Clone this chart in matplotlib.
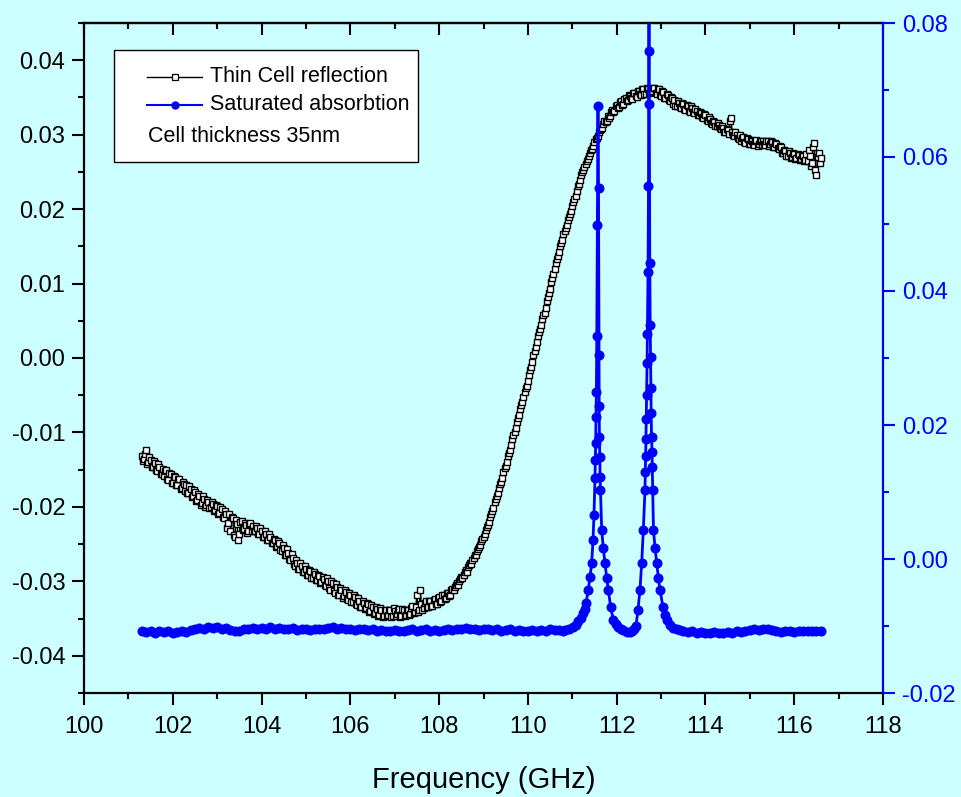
import numpy as np
import matplotlib
matplotlib.use("Agg")
import matplotlib.pyplot as plt
from matplotlib.ticker import MultipleLocator, FormatStrFormatter
from matplotlib.lines import Line2D
from matplotlib.patches import Rectangle

plt.rcParams['font.family'] = ['Liberation Sans', 'DejaVu Sans']
plt.rcParams['axes.unicode_minus'] = False

BG = '#ccffff'
BLUE = '#0000ff'

# thin cell reflection, two interleaved sweeps every 50 MHz
refl_freq_a = np.round(np.linspace(101.30, 116.60, 307), 3)
refl_signal_a = [
    -0.0131, -0.0136, -0.0124, -0.0140, -0.0137, -0.0147, -0.0141, -0.0152, -0.0146, -0.0156,
    -0.0158, -0.0150, -0.0164, -0.0156, -0.0168, -0.0160, -0.0171, -0.0162, -0.0175, -0.0169,
    -0.0171, -0.0181, -0.0176, -0.0186, -0.0180, -0.0191, -0.0185, -0.0195, -0.0190, -0.0198,
    -0.0193, -0.0200, -0.0196, -0.0204, -0.0199, -0.0208, -0.0203, -0.0215, -0.0209, -0.0221,
    -0.0232, -0.0215, -0.0241, -0.0223, -0.0236, -0.0219, -0.0230, -0.0224, -0.0233, -0.0222,
    -0.0226, -0.0233, -0.0228, -0.0236, -0.0232, -0.0240, -0.0236, -0.0244, -0.0241, -0.0249,
    -0.0245, -0.0253, -0.0249, -0.0259, -0.0255, -0.0265, -0.0262, -0.0272, -0.0268, -0.0279,
    -0.0276, -0.0283, -0.0279, -0.0287, -0.0283, -0.0292, -0.0286, -0.0295, -0.0290, -0.0298,
    -0.0293, -0.0301, -0.0297, -0.0306, -0.0300, -0.0311, -0.0302, -0.0316, -0.0308, -0.0318,
    -0.0311, -0.0320, -0.0314, -0.0325, -0.0318, -0.0328, -0.0321, -0.0332, -0.0326, -0.0334,
    -0.0329, -0.0336, -0.0331, -0.0340, -0.0335, -0.0343, -0.0337, -0.0345, -0.0339, -0.0346,
    -0.0339, -0.0345, -0.0338, -0.0346, -0.0340, -0.0344, -0.0337, -0.0346, -0.0339, -0.0345,
    -0.0338, -0.0344, -0.0333, -0.0341, -0.0318, -0.0339, -0.0330, -0.0336, -0.0327, -0.0334,
    -0.0326, -0.0333, -0.0324, -0.0330, -0.0321, -0.0327, -0.0318, -0.0323, -0.0315, -0.0318,
    -0.0310, -0.0307, -0.0302, -0.0300, -0.0294, -0.0291, -0.0285, -0.0281, -0.0275, -0.0271,
    -0.0265, -0.0259, -0.0254, -0.0246, -0.0240, -0.0231, -0.0224, -0.0213, -0.0206, -0.0194,
    -0.0186, -0.0174, -0.0166, -0.0153, -0.0145, -0.0132, -0.0123, -0.0109, -0.0099, -0.0086,
    -0.0076, -0.0063, -0.0053, -0.0040, -0.0031, -0.0016, -0.0005, 0.0010, 0.0021, 0.0035,
    0.0044, 0.0058, 0.0067, 0.0082, 0.0093, 0.0108, 0.0119, 0.0133, 0.0142, 0.0155,
    0.0166, 0.0174, 0.0185, 0.0193, 0.0204, 0.0213, 0.0225, 0.0234, 0.0246, 0.0252,
    0.0261, 0.0267, 0.0276, 0.0281, 0.0290, 0.0295, 0.0303, 0.0307, 0.0314, 0.0317,
    0.0325, 0.0325, 0.0333, 0.0332, 0.0340, 0.0337, 0.0345, 0.0341, 0.0349, 0.0346,
    0.0352, 0.0348, 0.0356, 0.0351, 0.0358, 0.0353, 0.0361, 0.0355, 0.0362, 0.0357,
    0.0358, 0.0363, 0.0355, 0.0361, 0.0352, 0.0357, 0.0349, 0.0353, 0.0345, 0.0349,
    0.0346, 0.0339, 0.0343, 0.0336, 0.0341, 0.0333, 0.0338, 0.0331, 0.0336, 0.0329,
    0.0332, 0.0326, 0.0329, 0.0323, 0.0326, 0.0319, 0.0321, 0.0314, 0.0317, 0.0311,
    0.0313, 0.0308, 0.0309, 0.0303, 0.0306, 0.0318, 0.0304, 0.0298, 0.0300, 0.0294,
    0.0292, 0.0297, 0.0289, 0.0294, 0.0287, 0.0292, 0.0286, 0.0293, 0.0287, 0.0291,
    0.0291, 0.0286, 0.0292, 0.0287, 0.0290, 0.0284, 0.0287, 0.0281, 0.0283, 0.0276,
    0.0278, 0.0272, 0.0276, 0.0270, 0.0274, 0.0268, 0.0273, 0.0267, 0.0272, 0.0266,
    0.0265, 0.0271, 0.0262, 0.0289, 0.0246, 0.0275, 0.0268,
]
refl_freq_b = np.round(np.linspace(101.325, 116.575, 306), 3)
refl_signal_b = [
    -0.0138, -0.0129, -0.0142, -0.0133, -0.0146, -0.0139, -0.0151, -0.0142, -0.0156, -0.0149,
    -0.0152, -0.0163, -0.0155, -0.0168, -0.0159, -0.0170, -0.0162, -0.0176, -0.0166, -0.0179,
    -0.0181, -0.0172, -0.0187, -0.0177, -0.0192, -0.0183, -0.0197, -0.0186, -0.0200, -0.0191,
    -0.0201, -0.0193, -0.0205, -0.0197, -0.0209, -0.0200, -0.0214, -0.0206, -0.0228, -0.0210,
    -0.0213, -0.0238, -0.0218, -0.0245, -0.0220, -0.0231, -0.0221, -0.0235, -0.0223, -0.0232,
    -0.0233, -0.0225, -0.0237, -0.0229, -0.0240, -0.0233, -0.0244, -0.0237, -0.0249, -0.0243,
    -0.0254, -0.0246, -0.0258, -0.0251, -0.0264, -0.0257, -0.0270, -0.0263, -0.0277, -0.0271,
    -0.0284, -0.0276, -0.0288, -0.0280, -0.0292, -0.0285, -0.0296, -0.0288, -0.0298, -0.0291,
    -0.0302, -0.0294, -0.0305, -0.0296, -0.0309, -0.0299, -0.0313, -0.0304, -0.0319, -0.0309,
    -0.0322, -0.0312, -0.0324, -0.0316, -0.0328, -0.0319, -0.0331, -0.0322, -0.0335, -0.0326,
    -0.0337, -0.0329, -0.0341, -0.0332, -0.0344, -0.0335, -0.0347, -0.0336, -0.0348, -0.0338,
    -0.0347, -0.0338, -0.0348, -0.0336, -0.0347, -0.0339, -0.0348, -0.0337, -0.0346, -0.0338,
    -0.0345, -0.0336, -0.0343, -0.0334, -0.0341, -0.0312, -0.0338, -0.0329, -0.0335, -0.0327,
    -0.0333, -0.0325, -0.0331, -0.0322, -0.0328, -0.0319, -0.0324, -0.0316, -0.0320, -0.0311,
    -0.0312, -0.0305, -0.0305, -0.0297, -0.0296, -0.0288, -0.0287, -0.0278, -0.0277, -0.0268,
    -0.0264, -0.0256, -0.0251, -0.0243, -0.0237, -0.0227, -0.0220, -0.0209, -0.0201, -0.0189,
    -0.0181, -0.0169, -0.0161, -0.0148, -0.0140, -0.0127, -0.0117, -0.0103, -0.0094, -0.0080,
    -0.0069, -0.0059, -0.0046, -0.0037, -0.0023, -0.0012, 0.0004, 0.0015, 0.0029, 0.0039,
    0.0052, 0.0061, 0.0076, 0.0087, 0.0102, 0.0113, 0.0127, 0.0137, 0.0150, 0.0159,
    0.0171, 0.0179, 0.0190, 0.0198, 0.0210, 0.0218, 0.0231, 0.0239, 0.0250, 0.0256,
    0.0265, 0.0271, 0.0280, 0.0285, 0.0294, 0.0298, 0.0306, 0.0309, 0.0318, 0.0319,
    0.0322, 0.0331, 0.0330, 0.0339, 0.0336, 0.0344, 0.0340, 0.0348, 0.0345, 0.0353,
    0.0349, 0.0356, 0.0352, 0.0359, 0.0354, 0.0361, 0.0355, 0.0363, 0.0356, 0.0362,
    0.0363, 0.0356, 0.0361, 0.0353, 0.0358, 0.0349, 0.0354, 0.0346, 0.0350, 0.0341,
    0.0339, 0.0345, 0.0337, 0.0342, 0.0334, 0.0340, 0.0332, 0.0338, 0.0330, 0.0334,
    0.0327, 0.0331, 0.0324, 0.0328, 0.0320, 0.0324, 0.0316, 0.0319, 0.0312, 0.0316,
    0.0309, 0.0312, 0.0304, 0.0308, 0.0301, 0.0322, 0.0299, 0.0303, 0.0295, 0.0299,
    0.0296, 0.0290, 0.0295, 0.0288, 0.0293, 0.0287, 0.0292, 0.0285, 0.0291, 0.0286,
    0.0287, 0.0292, 0.0285, 0.0291, 0.0284, 0.0289, 0.0282, 0.0285, 0.0276, 0.0280,
    0.0272, 0.0278, 0.0269, 0.0275, 0.0267, 0.0274, 0.0266, 0.0273, 0.0265, 0.0274,
    0.0279, 0.0258, 0.0284, 0.0252, 0.0270, 0.0262,
]
refl_freq = np.concatenate([refl_freq_a, refl_freq_b])
refl_signal = np.concatenate([refl_signal_a, refl_signal_b])
order = np.argsort(refl_freq)
refl_freq, refl_signal = refl_freq[order], refl_signal[order]

# saturated absorption: flat baseline every 100 MHz, dense points over the two lines
base_lo_freq = np.round(np.linspace(101.3, 110.7, 95), 1)
base_lo_signal = [
    -0.0107, -0.0109, -0.0108, -0.0110, -0.0108, -0.0109, -0.0107, -0.0110, -0.0109, -0.0108,
    -0.0109, -0.0106, -0.0105, -0.0103, -0.0104, -0.0102, -0.0103, -0.0101, -0.0104, -0.0103,
    -0.0106, -0.0108, -0.0107, -0.0105, -0.0104, -0.0103, -0.0105, -0.0103, -0.0104, -0.0102,
    -0.0104, -0.0103, -0.0105, -0.0104, -0.0103, -0.0106, -0.0105, -0.0104, -0.0106, -0.0105,
    -0.0104, -0.0105, -0.0103, -0.0102, -0.0104, -0.0103, -0.0105, -0.0104, -0.0106, -0.0105,
    -0.0104, -0.0106, -0.0105, -0.0107, -0.0106, -0.0108, -0.0107, -0.0106, -0.0108, -0.0107,
    -0.0106, -0.0105, -0.0107, -0.0106, -0.0105, -0.0107, -0.0106, -0.0108, -0.0106, -0.0105,
    -0.0106, -0.0104, -0.0105, -0.0103, -0.0105, -0.0104, -0.0106, -0.0105, -0.0104, -0.0106,
    -0.0105, -0.0107, -0.0106, -0.0105, -0.0107, -0.0106, -0.0108, -0.0107, -0.0106, -0.0107,
    -0.0106, -0.0107, -0.0105, -0.0106, -0.0106,
]
peak_freq = [
    110.780, 110.836, 110.930, 111.016, 111.075, 111.129, 111.190, 111.248, 111.280, 111.309,
    111.361, 111.399, 111.437, 111.467, 111.489,
    111.512, 111.519, 111.528, 111.534, 111.543, 111.552, 111.564, 111.579, 111.591, 111.602,
    111.606, 111.611, 111.620, 111.626, 111.635, 111.663, 111.699, 111.737, 111.775, 111.811,
    111.865, 111.924, 111.975, 112.030, 112.090, 112.149, 112.226, 112.290, 112.345, 112.395,
    112.435, 112.480, 112.525, 112.564, 112.600, 112.638,
    112.645, 112.654, 112.660, 112.667, 112.676, 112.685, 112.692, 112.706, 112.717, 112.724,
    112.728, 112.735, 112.746, 112.755, 112.764, 112.771, 112.777, 112.786, 112.796, 112.802,
    112.811, 112.829, 112.865, 112.902, 112.940, 112.976, 113.044, 113.085, 113.127, 113.200,
    113.276, 113.350, 113.427,
]
peak_signal = [
    -0.0107, -0.0106, -0.0104, -0.0101, -0.0098, -0.0093, -0.0088, -0.0081, -0.0074, -0.0066,
    -0.0046, -0.0027, -0.0006, 0.0028, 0.0066,
    0.0121, 0.0148, 0.0173, 0.0212, 0.0249, 0.0333, 0.0499, 0.0676, 0.0554, 0.0304,
    0.0228, 0.0182, 0.0152, 0.0122, 0.0103, 0.0043, 0.0016, -0.0006, -0.0028, -0.0046,
    -0.0072, -0.0091, -0.0097, -0.0101, -0.0104, -0.0106, -0.0109, -0.0109, -0.0107, -0.0104,
    -0.0100, -0.0076, -0.0046, -0.0006, 0.0043, 0.0103,
    0.0130, 0.0154, 0.0179, 0.0209, 0.0245, 0.0293, 0.0336, 0.0428, 0.0557, 0.0758,
    0.0950, 0.0679, 0.0442, 0.0349, 0.0301, 0.0255, 0.0218, 0.0182, 0.0160, 0.0137,
    0.0103, 0.0043, 0.0016, -0.0006, -0.0028, -0.0046, -0.0072, -0.0083, -0.0091, -0.0099,
    -0.0103, -0.0105, -0.0106,
]
base_hi_freq = np.round(np.linspace(113.5, 116.6, 32), 1)
base_hi_signal = [
    -0.0107, -0.0109, -0.0108, -0.0110, -0.0109, -0.0111, -0.0110, -0.0109, -0.0111, -0.0110,
    -0.0109, -0.0110, -0.0108, -0.0109, -0.0107, -0.0106, -0.0105, -0.0106, -0.0104, -0.0105,
    -0.0106, -0.0108, -0.0109, -0.0107, -0.0108, -0.0109, -0.0107, -0.0108, -0.0107, -0.0108,
    -0.0107, -0.0108,
]
sat_freq = np.concatenate([base_lo_freq, peak_freq, base_hi_freq])
sat_signal = np.concatenate([base_lo_signal, peak_signal, base_hi_signal])

fig = plt.figure(figsize=(9.62, 7.97), dpi=100, facecolor=BG)
ax = fig.add_axes([84 / 962, 1 - 693 / 797, 799 / 962, 670 / 797])
ax.set_facecolor(BG)
ax2 = ax.twinx()

ax.plot(refl_freq, refl_signal, color='black', lw=1.0, marker='s', ms=4.8,
        mfc='white', mec='black', mew=1.0)
ax2.plot(sat_freq, sat_signal, color=BLUE, lw=2.0, marker='o', ms=6.2,
         mfc=BLUE, mec=BLUE)

ax.set_xlim(100, 118)
ax.set_ylim(-0.045, 0.045)
ax2.set_ylim(-0.02, 0.08)

ax.xaxis.set_major_locator(MultipleLocator(2))
ax.xaxis.set_minor_locator(MultipleLocator(1))
ax.yaxis.set_major_locator(MultipleLocator(0.01))
ax.yaxis.set_minor_locator(MultipleLocator(0.005))
ax.yaxis.set_major_formatter(FormatStrFormatter('%.2f'))
ax2.yaxis.set_major_locator(MultipleLocator(0.02))
ax2.yaxis.set_minor_locator(MultipleLocator(0.01))
ax2.yaxis.set_major_formatter(FormatStrFormatter('%.2f'))

for s in ['left', 'bottom', 'top']:
    ax.spines[s].set_linewidth(1.6)
ax.spines['right'].set_visible(False)
for s in ['left', 'bottom', 'top']:
    ax2.spines[s].set_visible(False)
ax2.spines['right'].set_linewidth(1.6)
ax2.spines['right'].set_color(BLUE)

ax.tick_params(axis='both', which='major', length=8.5, width=1.5, labelsize=17, pad=5)
ax.tick_params(axis='both', which='minor', length=4.5, width=1.5)
ax.tick_params(axis='x', which='major', pad=8)
ax.tick_params(axis='x', which='both', top=False)
ax.tick_params(axis='y', which='both', right=False)

# top edge carries inward ticks without labels
top = ax.secondary_xaxis('top')
top.xaxis.set_major_locator(MultipleLocator(2))
top.xaxis.set_minor_locator(MultipleLocator(1))
top.tick_params(which='major', direction='in', length=8.5, width=1.5, labeltop=False)
top.tick_params(which='minor', direction='in', length=4.5, width=1.5)
top.spines['top'].set_linewidth(1.6)

ax2.tick_params(axis='y', which='major', length=8.5, width=1.5, labelsize=17, pad=5,
                colors=BLUE)
ax2.tick_params(axis='y', which='minor', length=4.5, width=1.5, colors=BLUE)

ax.set_xlabel('Frequency (GHz)', fontsize=21, labelpad=20)

# legend box drawn by hand so the note line sits under the handles
def fx(px):
    return px / 962

def fy(py):
    return 1 - py / 797

fig.add_artist(Rectangle((fx(114), fy(162)), fx(418) - fx(114), fy(50) - fy(162),
                         transform=fig.transFigure, facecolor='white',
                         edgecolor='black', lw=1.0, zorder=10))
fig.add_artist(Line2D([fx(147), fx(202)], [fy(77), fy(77)], transform=fig.transFigure,
                      color='black', lw=1.0, zorder=11))
fig.add_artist(Line2D([fx(175)], [fy(77)], transform=fig.transFigure, marker='s',
                      ms=4, mfc='white', mec='black', mew=0.9, zorder=12))
fig.add_artist(Line2D([fx(147), fx(202)], [fy(105), fy(105)], transform=fig.transFigure,
                      color=BLUE, lw=1.5, zorder=11))
fig.add_artist(Line2D([fx(175)], [fy(105)], transform=fig.transFigure, marker='o',
                      ms=5, mfc=BLUE, mec=BLUE, zorder=12))
fig.text(fx(210), fy(77), 'Thin Cell reflection', fontsize=15.5, va='center', zorder=12)
fig.text(fx(210), fy(105), 'Saturated absorbtion', fontsize=15.5, va='center', zorder=12)
fig.text(fx(148), fy(136), 'Cell thickness 35nm', fontsize=15.5, va='center', zorder=12)

fig.savefig('out.png', dpi=100, facecolor=BG)
